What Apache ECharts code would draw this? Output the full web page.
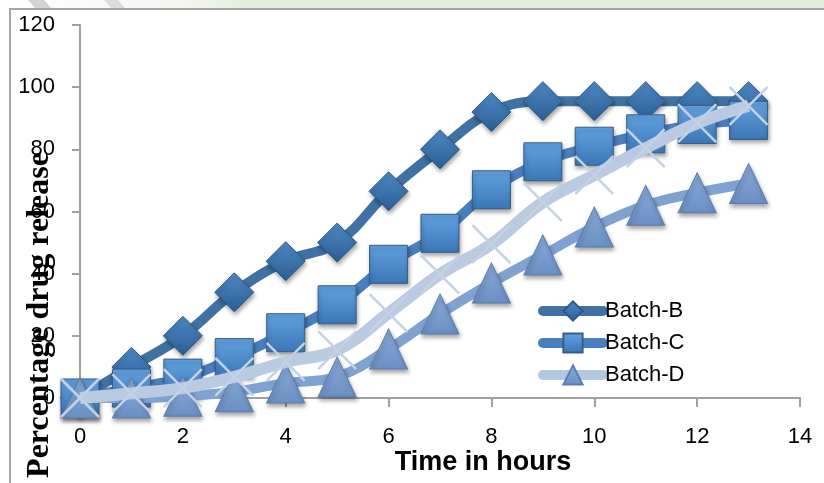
<!DOCTYPE html>
<html>
<head>
<meta charset="utf-8">
<script src="https://cdn.jsdelivr.net/npm/echarts@6/dist/echarts.min.js"></script>
<style>
html,body{margin:0;padding:0;background:#fff;}
#chart{width:824px;height:483px;}
</style>
</head>
<body>
<div id="chart"></div>
<script>
var hours = [0,1,2,3,4,5,6,7,8,9,10,11,12,13];
var batchB = [0,10,20,34,44,50,66.5,80,92,95.5,95.5,95.5,95.5,95.5];
var batchC = [0,3.2,6.4,13,21,30,43,53,67,76,81,85,88,89.3];
var batchD = [0,0,0.6,2,4.8,6.8,15.8,27,37,46,55,62,66,69];
var batchA = [0,1.5,3.2,6.8,11.6,15.4,27.3,39.8,49.5,63,71.7,80.4,88.4,94];
var yTicks = [0,20,40,60,80,100,120];
var xTicks = [0,2,4,6,8,10,12,14];

function pairs(arr){ return hours.map(function(h,i){ return [h, arr[i]]; }); }
function grad(top, bottom){
  return new echarts.graphic.LinearGradient(0,0,0,1,[{offset:0,color:top},{offset:1,color:bottom}]);
}
var shadow = {shadowBlur:4, shadowColor:'rgba(0,0,0,0.35)', shadowOffsetX:1, shadowOffsetY:3};

var chart = echarts.init(document.getElementById('chart'), null, {renderer:'canvas'});
var option = {
  backgroundColor:'#ffffff',
  animation:false,
  grid:{left:80, right:24, top:25, bottom:85},
  xAxis:{
    type:'value', min:xTicks[0], max:xTicks[xTicks.length-1], interval:2,
    axisLine:{show:true, lineStyle:{color:'#a0a0a0', width:2}},
    axisTick:{show:true, inside:false, length:9, lineStyle:{color:'#a0a0a0', width:2}},
    axisLabel:{fontFamily:'Liberation Sans', fontSize:22, color:'#000', margin:28},
    splitLine:{show:false}
  },
  yAxis:{
    type:'value', min:yTicks[0], max:yTicks[yTicks.length-1], interval:20,
    axisLine:{show:true, lineStyle:{color:'#a0a0a0', width:2}},
    axisTick:{show:true, inside:false, length:8, lineStyle:{color:'#a0a0a0', width:2}},
    axisLabel:{fontFamily:'Liberation Sans', fontSize:22, color:'#000', margin:25},
    splitLine:{show:false}
  },
  legend:{
    orient:'vertical', left:538, top:300, padding:0,
    itemWidth:60, itemHeight:24, itemGap:10,
    lineStyle:{width:10, cap:'round'},
    textStyle:{fontFamily:'Liberation Sans', fontSize:22, color:'#000', padding:[0,0,0,-3]},
    data:[
      {name:'Batch-B'},
      {name:'Batch-C'},
      {name:'Batch-D', lineStyle:{color:'#b4c7e0', width:10, cap:'round'}}
    ]
  },
  graphic:[
    {type:'rect', shape:{x:0,y:0,width:824,height:9}, silent:true,
     style:{fill:new echarts.graphic.LinearGradient(0,0,1,0,[
       {offset:0,color:'#ffffff'},{offset:0.22,color:'#f4f6f2'},{offset:0.3,color:'#e2efdc'},{offset:1,color:'#e0eed9'}])}},
    {type:'polygon', shape:{points:[[28,0],[44,0],[52,9],[36,9]]}, silent:true, style:{fill:'#d4d4d4'}},
    {type:'polygon', shape:{points:[[104,0],[118,0],[126,9],[112,9]]}, silent:true, style:{fill:'#dcdcdc'}},
    {type:'line', shape:{x1:9,y1:9,x2:824,y2:9}, silent:true, style:{stroke:'#a6a6a6', lineWidth:2}},
    {type:'line', shape:{x1:10,y1:9,x2:10,y2:483}, silent:true, style:{stroke:'#a6a6a6', lineWidth:2}},
    {type:'text', x:40, y:315, rotation:Math.PI/2, silent:true, z:100,
     style:{text:'Percentage drug release', font:'bold 32px "Liberation Serif"', fill:'#000',
            align:'center', verticalAlign:'middle', textAlign:'center', textVerticalAlign:'middle'}},
    {type:'text', x:483, y:463, silent:true, z:100,
     style:{text:'Time in hours', font:'bold 27px "Liberation Sans"', fill:'#000',
            align:'center', verticalAlign:'middle', textAlign:'center', textVerticalAlign:'middle'}}
  ],
  series:[
    {
      name:'Batch-B', type:'line', smooth:0.4, data:pairs(batchB), z:2,
      symbol:'diamond', symbolSize:39,
      lineStyle:{color:'#3f71a3', width:10},
      itemStyle:Object.assign({color:grad('#4e8bc8','#2b5d91'), borderColor:'#2c5985', borderWidth:1}, shadow)
    },
    {
      name:'Batch-C', type:'line', smooth:0.4, data:pairs(batchC), z:3,
      symbol:'rect', symbolSize:38,
      lineStyle:{color:'#4a7fbf', width:10},
      itemStyle:Object.assign({color:grad('#62a3e2','#3b76b6'), borderColor:'#385d88', borderWidth:1}, shadow)
    },
    {
      name:'Batch-D', type:'line', smooth:0.4, data:pairs(batchD), z:4,
      symbol:'triangle', symbolSize:[38,40],
      lineStyle:{color:'#7fa2d0', width:10},
      itemStyle:Object.assign({color:grad('#89acda','#6a8fc3'), borderColor:'#5a7eae', borderWidth:1}, shadow)
    },
    {
      name:'Batch-A', type:'line', smooth:0.4, data:pairs(batchA), z:5,
      symbol:'path://M0,0L10,10M10,0L0,10', symbolSize:38,
      lineStyle:{color:'#bacbe1', width:12},
      itemStyle:{color:'rgba(0,0,0,0)', borderColor:'#c3d2e5', borderWidth:2.5}
    }
  ]
};
chart.setOption(option);
</script>
</body>
</html>
